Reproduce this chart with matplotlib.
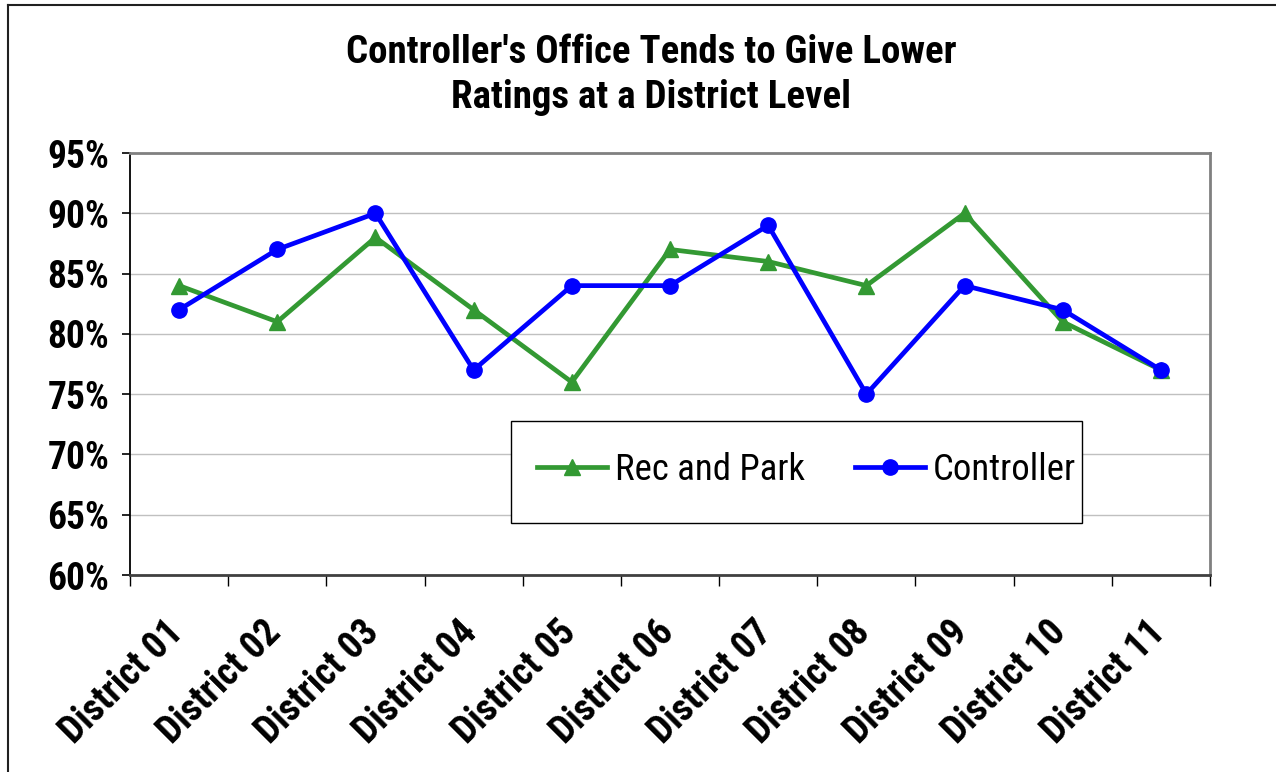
import matplotlib
matplotlib.use("Agg")
import matplotlib.pyplot as plt
from matplotlib.lines import Line2D
from matplotlib.patches import Rectangle
from matplotlib.ticker import FuncFormatter, FixedLocator
from matplotlib.transforms import ScaledTranslation

categories = ["District 01", "District 02", "District 03", "District 04", "District 05",
              "District 06", "District 07", "District 08", "District 09", "District 10",
              "District 11"]
rec_and_park = [84, 81, 88, 82, 76, 87, 86, 84, 90, 81, 77]
controller = [82, 87, 90, 77, 84, 84, 89, 75, 84, 82, 77]
y_ticks = [60, 65, 70, 75, 80, 85, 90, 95]

title = "Controller's Office Tends to Give Lower\nRatings at a District Level"

FAM = ["Roboto Condensed", "Archivo Narrow", "Liberation Sans", "DejaVu Sans"]
plt.rcParams['font.family'] = FAM

GREEN = "#339933"
BLUE = "#0000FF"

fig = plt.figure(figsize=(12.76, 7.72), dpi=100)
W, H = 1276, 772
AX_L, AX_R, AX_T, AX_B = 130, 1210, 153, 575
ax = fig.add_axes([AX_L / W, 1 - AX_B / H, (AX_R - AX_L) / W, (AX_B - AX_T) / H])
aw, ah = AX_R - AX_L, AX_B - AX_T

x = list(range(len(categories)))
ax.plot(x, rec_and_park, color=GREEN, lw=3.4, marker="^", markersize=12,
        label="Rec and Park", zorder=3)
ax.plot(x, controller, color=BLUE, lw=3.4, marker="o", markersize=11,
        label="Controller", zorder=4)

ax.set_xlim(-0.5, len(categories) - 0.5)
ax.set_ylim(60, 95)
ax.set_yticks(y_ticks)
ax.yaxis.set_major_formatter(FuncFormatter(lambda v, p: f"{v:.0f}%"))
ax.tick_params(axis="y", direction="out", length=6, width=1.2, pad=9,
               labelsize=27, colors="black")
for t in ax.get_yticklabels():
    t.set_fontweight("bold")

ax.set_xticks(x)
ax.set_xticklabels(categories, rotation=45, ha="right", va="top",
                   rotation_mode="anchor", fontsize=27, fontweight="bold")
ax.tick_params(axis="x", which="major", length=0, pad=28)
shift = ScaledTranslation(-15 / 100, 0, fig.dpi_scale_trans)
for t in ax.get_xticklabels():
    t.set_transform(t.get_transform() + shift)
ax.xaxis.set_minor_locator(FixedLocator([i - 0.5 for i in range(len(categories) + 1)]))
ax.tick_params(axis="x", which="minor", direction="out", length=8, width=1.0,
               color="black")

ax.grid(axis="y", color="#c0c0c0", lw=1.0)
ax.set_axisbelow(True)
for side in ["top", "right"]:
    ax.spines[side].set_color("#808080")
    ax.spines[side].set_linewidth(2.0)
ax.spines["left"].set_color("black")
ax.spines["left"].set_linewidth(1.3)
ax.spines["bottom"].set_color("#404040")
ax.spines["bottom"].set_linewidth(2.0)

# legend frame
ax.add_patch(Rectangle(((511 - AX_L) / aw, (AX_B - 523) / ah), 571 / aw, 102 / ah,
                       transform=ax.transAxes, facecolor="white", edgecolor="black",
                       lw=1.0, zorder=5))
fs = 26.5
fpx = fs * 100 / 72
leg = ax.legend(loc="center left",
                bbox_to_anchor=((537 - AX_L) / aw, (AX_B - 470) / ah),
                ncol=2, frameon=False, fontsize=fs, handlelength=70 / fpx,
                handletextpad=8 / fpx, columnspacing=50 / fpx, borderaxespad=0,
                borderpad=0)
leg.set_zorder(6)

fig.text(651 / W, 1 - 75 / H, title, ha="center", va="center", fontsize=28,
         fontweight="bold", linespacing=1.3)

# figure border (left and top edges visible)
fig.add_artist(Line2D([8 / W, 8 / W], [0, 1 - 5 / H], color="#202020", lw=1.5,
                      transform=fig.transFigure))
fig.add_artist(Line2D([8 / W, 1], [1 - 5 / H, 1 - 5 / H], color="#202020", lw=1.5,
                      transform=fig.transFigure))

fig.savefig("out.png", dpi=100, facecolor="white")
